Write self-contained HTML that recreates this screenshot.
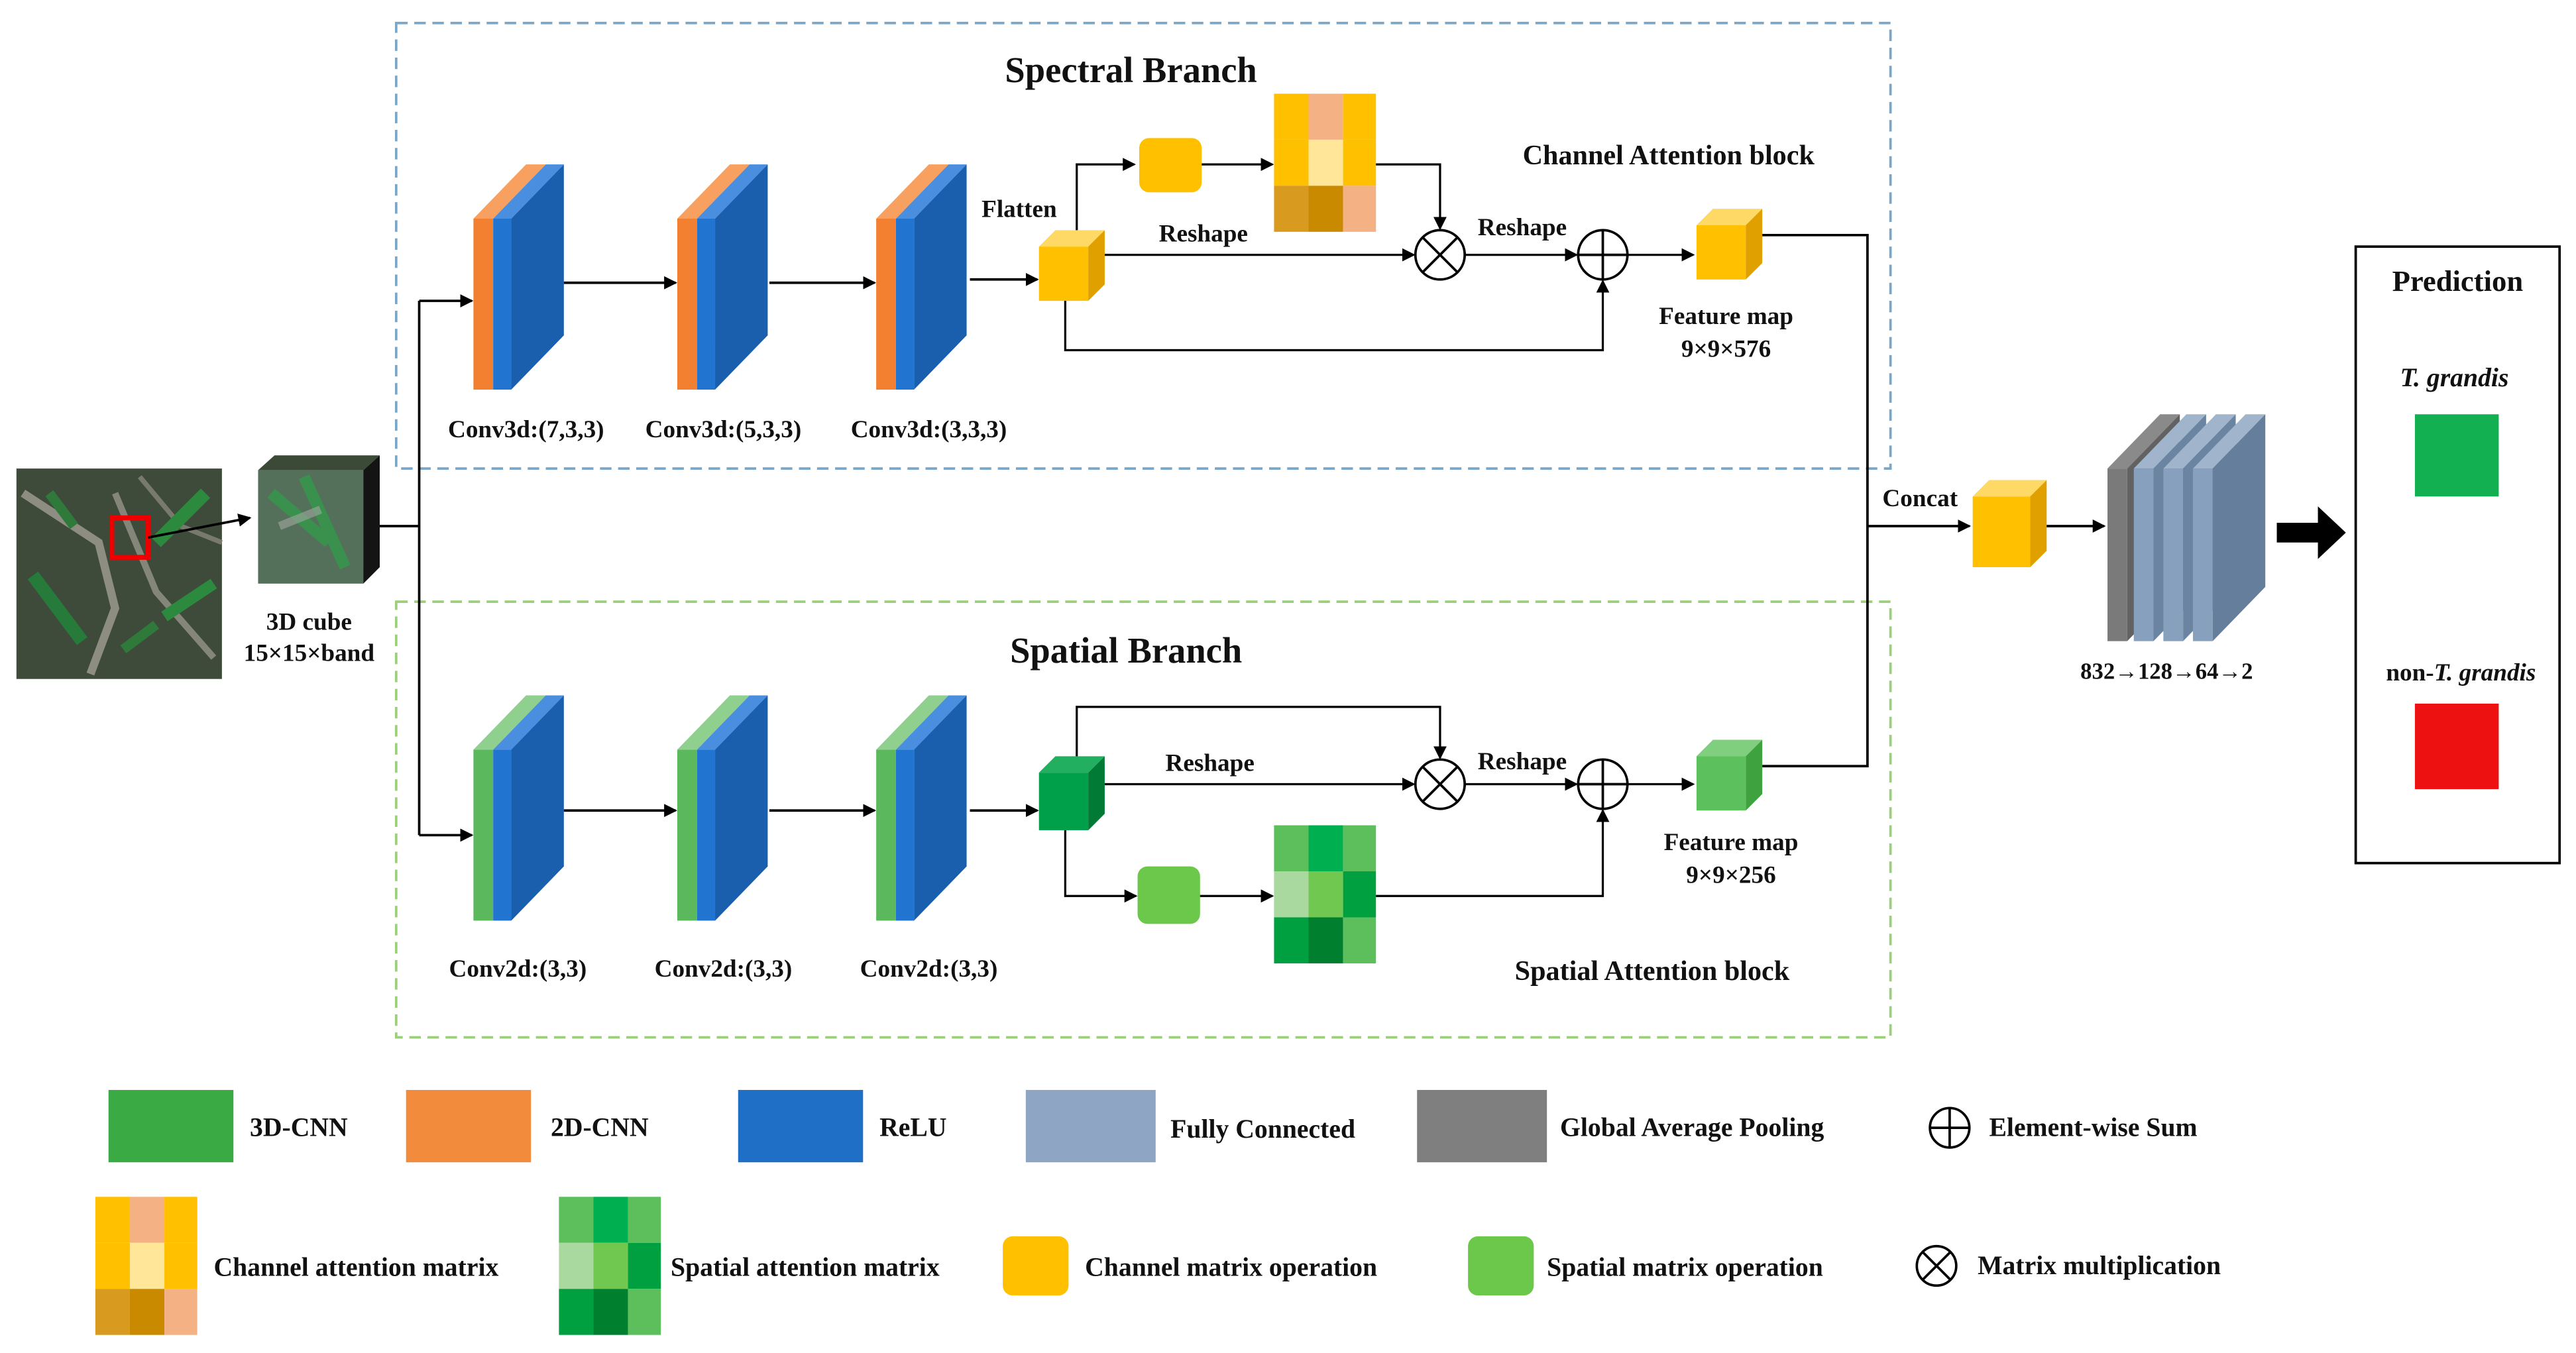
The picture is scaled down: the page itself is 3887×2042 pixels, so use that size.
<!DOCTYPE html>
<html><head><meta charset="utf-8"><style>
html,body{margin:0;padding:0;background:#fff;}
svg{display:block;}
text{font-family:"Liberation Serif",serif;font-weight:bold;fill:#111;}
</style></head><body>
<svg width="3887" height="2042" viewBox="0 0 1567 823" preserveAspectRatio="none" xmlns="http://www.w3.org/2000/svg">
<defs>
<marker id="ar" markerWidth="8" markerHeight="8" refX="7" refY="4" orient="auto" markerUnits="userSpaceOnUse">
<path d="M0,0 L8,4 L0,8 z" fill="#000"/></marker>
<g id="blkO">
<polygon points="0,33 32,0 44,0 12,33" fill="#f7a060"/>
<polygon points="12,33 44,0 55,0 23,33" fill="#4a8ee0"/>
<rect x="0" y="33" width="12" height="104" fill="#f28030"/>
<rect x="12" y="33" width="11" height="104" fill="#2174d0"/>
<polygon points="23,33 55,0 55,104 23,137" fill="#1a5eae"/>
</g>
<g id="blkG">
<polygon points="0,33 32,0 44,0 12,33" fill="#8fd08f"/>
<polygon points="12,33 44,0 55,0 23,33" fill="#4a8ee0"/>
<rect x="0" y="33" width="12" height="104" fill="#5cb85c"/>
<rect x="12" y="33" width="11" height="104" fill="#2174d0"/>
<polygon points="23,33 55,0 55,104 23,137" fill="#1a5eae"/>
</g>
<g id="cubeO">
<polygon points="0,10 10,0 40,0 30,10" fill="#ffd966"/>
<rect x="0" y="10" width="30" height="33" fill="#ffc000"/>
<polygon points="30,10 40,0 40,33 30,43" fill="#e0a000"/>
</g>
<g id="cubeG">
<polygon points="0,10 10,0 40,0 30,10" fill="#7fcf7f"/>
<rect x="0" y="10" width="30" height="33" fill="#5cc05c"/>
<polygon points="30,10 40,0 40,33 30,43" fill="#3ea33e"/>
</g>
<g id="cubeD">
<polygon points="0,10 10,0 40,0 30,10" fill="#22b060"/>
<rect x="0" y="10" width="30" height="35" fill="#00a04a"/>
<polygon points="30,10 40,0 40,35 30,45" fill="#007a35"/>
</g>
<g id="matC">
<rect x="0" y="0" width="21" height="28" fill="#ffc000"/><rect x="21" y="0" width="21" height="28" fill="#f4b183"/><rect x="42" y="0" width="20" height="28" fill="#ffc000"/>
<rect x="0" y="28" width="21" height="28" fill="#ffc000"/><rect x="21" y="28" width="21" height="28" fill="#ffe699"/><rect x="42" y="28" width="20" height="28" fill="#ffc000"/>
<rect x="0" y="56" width="21" height="28" fill="#d99b1f"/><rect x="21" y="56" width="21" height="28" fill="#c98a00"/><rect x="42" y="56" width="20" height="28" fill="#f4b183"/>
</g>
<g id="matS">
<rect x="0" y="0" width="21" height="28" fill="#5cbf5c"/><rect x="21" y="0" width="21" height="28" fill="#00b050"/><rect x="42" y="0" width="20" height="28" fill="#5cbf5c"/>
<rect x="0" y="28" width="21" height="28" fill="#a9d99e"/><rect x="21" y="28" width="21" height="28" fill="#70c850"/><rect x="42" y="28" width="20" height="28" fill="#00a040"/>
<rect x="0" y="56" width="21" height="28" fill="#00a040"/><rect x="21" y="56" width="21" height="28" fill="#00802f"/><rect x="42" y="56" width="20" height="28" fill="#5cbf5c"/>
</g>
</defs>

<rect x="241" y="14" width="909" height="271" fill="none" stroke="#7aa6c8" stroke-width="1.5" stroke-dasharray="7,4"/>
<rect x="241" y="366" width="909" height="265" fill="none" stroke="#9ccf7a" stroke-width="1.5" stroke-dasharray="7,4"/>
<text x="688" y="50" font-size="22" text-anchor="middle">Spectral Branch</text>
<text x="685" y="403" font-size="22" text-anchor="middle">Spatial Branch</text>
<text x="1015" y="100" font-size="17" text-anchor="middle">Channel Attention block</text>
<text x="1005" y="596" font-size="17" text-anchor="middle">Spatial Attention block</text>

<rect x="10" y="285" width="125" height="128" fill="#3e4a3a"/>
<g opacity="0.75">
<path d="M14,300 L60,330 L70,370 L55,410" stroke="#a9a49a" stroke-width="5" fill="none"/>
<path d="M70,300 L95,360 L130,400" stroke="#9c9a90" stroke-width="4" fill="none"/>
<path d="M85,290 L110,320 L135,330" stroke="#8c8a80" stroke-width="3" fill="none"/>
<path d="M20,350 L50,390" stroke="#1f8a3a" stroke-width="8" fill="none"/>
<path d="M95,330 L125,300" stroke="#27a040" stroke-width="8" fill="none"/>
<path d="M100,375 L130,355" stroke="#27a040" stroke-width="7" fill="none"/>
<path d="M30,300 L45,320" stroke="#2a8a3a" stroke-width="6" fill="none"/>
<path d="M75,395 L95,380" stroke="#2a8a3a" stroke-width="6" fill="none"/>
</g>
<rect x="68" y="315" width="22" height="24" fill="none" stroke="#e00" stroke-width="3"/>
<polygon points="157,286 167,277 231,277 221,286" fill="#3b4a36"/>
<rect x="157" y="286" width="64" height="69" fill="#55705a"/>
<path d="M165,300 L200,330 M185,290 L210,345" stroke="#2fa04a" stroke-width="7" opacity="0.7"/>
<path d="M170,320 L195,310" stroke="#a0a8a0" stroke-width="5" opacity="0.6"/>
<polygon points="221,286 231,277 231,345 221,355" fill="#141414"/>
<line x1="90" y1="327" x2="152" y2="315" stroke="#000" stroke-width="1.5" marker-end="url(#ar)"/>
<text x="188" y="383" font-size="15" text-anchor="middle">3D cube</text>
<text x="188" y="402" font-size="15" text-anchor="middle">15×15×band</text>
<polyline points="231,320 255,320" fill="none" stroke="#000" stroke-width="1.5"/>
<line x1="255" y1="183" x2="255" y2="508" stroke="#000" stroke-width="1.5"/>
<line x1="255" y1="183" x2="287" y2="183" stroke="#000" stroke-width="1.5" marker-end="url(#ar)"/>
<line x1="255" y1="508" x2="287" y2="508" stroke="#000" stroke-width="1.5" marker-end="url(#ar)"/>

<use href="#blkO" x="288" y="100"/><use href="#blkO" x="412" y="100"/><use href="#blkO" x="533" y="100"/>
<line x1="343" y1="172" x2="411" y2="172" stroke="#000" stroke-width="1.5" marker-end="url(#ar)"/>
<line x1="468" y1="172" x2="532" y2="172" stroke="#000" stroke-width="1.5" marker-end="url(#ar)"/>
<line x1="590" y1="170" x2="631" y2="170" stroke="#000" stroke-width="1.5" marker-end="url(#ar)"/>
<text x="320" y="266" font-size="15" text-anchor="middle">Conv3d:(7,3,3)</text>
<text x="440" y="266" font-size="15" text-anchor="middle">Conv3d:(5,3,3)</text>
<text x="565" y="266" font-size="15" text-anchor="middle">Conv3d:(3,3,3)</text>
<text x="620" y="132" font-size="15" text-anchor="middle" font-weight="normal">Flatten</text>
<use href="#cubeO" x="632" y="140"/>
<polyline points="655,140 655,100 690,100" fill="none" stroke="#000" stroke-width="1.3" marker-end="url(#ar)"/>
<rect x="693" y="84" width="38" height="33" rx="6" fill="#ffc000"/>
<line x1="731" y1="100" x2="774" y2="100" stroke="#000" stroke-width="1.3" marker-end="url(#ar)"/>
<use href="#matC" x="775" y="57"/>
<polyline points="837,100 876,100 876,139" fill="none" stroke="#000" stroke-width="1.3" marker-end="url(#ar)"/>
<line x1="672" y1="155" x2="860" y2="155" stroke="#000" stroke-width="1.3" marker-end="url(#ar)"/>
<text x="732" y="147" font-size="15" text-anchor="middle" font-weight="normal">Reshape</text>
<circle cx="876" cy="155" r="15" fill="#fff" stroke="#000" stroke-width="1.5"/>
<path d="M865.4,144.4 L886.6,165.6 M886.6,144.4 L865.4,165.6" stroke="#000" stroke-width="1.5"/>
<line x1="891" y1="155" x2="959" y2="155" stroke="#000" stroke-width="1.3" marker-end="url(#ar)"/>
<text x="926" y="143" font-size="15" text-anchor="middle" font-weight="normal">Reshape</text>
<circle cx="975" cy="155" r="15" fill="#fff" stroke="#000" stroke-width="1.5"/>
<path d="M960,155 L990,155 M975,140 L975,170" stroke="#000" stroke-width="1.5"/>
<polyline points="648,183 648,213 975,213 975,171" fill="none" stroke="#000" stroke-width="1.3" marker-end="url(#ar)"/>
<line x1="990" y1="155" x2="1030" y2="155" stroke="#000" stroke-width="1.3" marker-end="url(#ar)"/>
<use href="#cubeO" x="1032" y="127"/>
<text x="1050" y="197" font-size="15" text-anchor="middle">Feature map</text>
<text x="1050" y="217" font-size="15" text-anchor="middle">9×9×576</text>
<polyline points="1072,143 1136,143 1136,466 1072,466" fill="none" stroke="#000" stroke-width="1.5"/>

<use href="#blkG" x="288" y="423"/><use href="#blkG" x="412" y="423"/><use href="#blkG" x="533" y="423"/>
<line x1="343" y1="493" x2="411" y2="493" stroke="#000" stroke-width="1.5" marker-end="url(#ar)"/>
<line x1="468" y1="493" x2="532" y2="493" stroke="#000" stroke-width="1.5" marker-end="url(#ar)"/>
<line x1="590" y1="493" x2="631" y2="493" stroke="#000" stroke-width="1.5" marker-end="url(#ar)"/>
<text x="315" y="594" font-size="15" text-anchor="middle">Conv2d:(3,3)</text>
<text x="440" y="594" font-size="15" text-anchor="middle">Conv2d:(3,3)</text>
<text x="565" y="594" font-size="15" text-anchor="middle">Conv2d:(3,3)</text>
<use href="#cubeD" x="632" y="460"/>
<polyline points="655,460 655,430 876,430 876,461" fill="none" stroke="#000" stroke-width="1.3" marker-end="url(#ar)"/>
<line x1="672" y1="477" x2="860" y2="477" stroke="#000" stroke-width="1.3" marker-end="url(#ar)"/>
<text x="736" y="469" font-size="15" text-anchor="middle" font-weight="normal">Reshape</text>
<circle cx="876" cy="477" r="15" fill="#fff" stroke="#000" stroke-width="1.5"/>
<path d="M865.4,466.4 L886.6,487.6 M886.6,466.4 L865.4,487.6" stroke="#000" stroke-width="1.5"/>
<line x1="891" y1="477" x2="959" y2="477" stroke="#000" stroke-width="1.3" marker-end="url(#ar)"/>
<text x="926" y="468" font-size="15" text-anchor="middle" font-weight="normal">Reshape</text>
<circle cx="975" cy="477" r="15" fill="#fff" stroke="#000" stroke-width="1.5"/>
<path d="M960,477 L990,477 M975,462 L975,492" stroke="#000" stroke-width="1.5"/>
<polyline points="648,505 648,545 691,545" fill="none" stroke="#000" stroke-width="1.3" marker-end="url(#ar)"/>
<rect x="692" y="527" width="38" height="35" rx="6" fill="#6cc84a"/>
<line x1="730" y1="545" x2="774" y2="545" stroke="#000" stroke-width="1.3" marker-end="url(#ar)"/>
<use href="#matS" x="775" y="502"/>
<polyline points="837,545 975,545 975,493" fill="none" stroke="#000" stroke-width="1.3" marker-end="url(#ar)"/>
<line x1="990" y1="477" x2="1030" y2="477" stroke="#000" stroke-width="1.3" marker-end="url(#ar)"/>
<use href="#cubeG" x="1032" y="450"/>
<text x="1053" y="517" font-size="15" text-anchor="middle">Feature map</text>
<text x="1053" y="537" font-size="15" text-anchor="middle">9×9×256</text>

<text x="1168" y="308" font-size="15" text-anchor="middle">Concat</text>
<line x1="1136" y1="320" x2="1198" y2="320" stroke="#000" stroke-width="1.5" marker-end="url(#ar)"/>
<polygon points="1200,302 1210,292 1245,292 1235,302" fill="#ffd966"/>
<rect x="1200" y="302" width="35" height="43" fill="#ffc000"/>
<polygon points="1235,302 1245,292 1245,335 1235,345" fill="#e0a000"/>
<line x1="1245" y1="320" x2="1280" y2="320" stroke="#000" stroke-width="1.5" marker-end="url(#ar)"/>
<!-- FC stack (back = left, drawn first) -->
<g>
<polygon points="1282,285 1314,252 1326,252 1294,285" fill="#8a8a8a"/>
<rect x="1282" y="285" width="12" height="105" fill="#7a7a7a"/>
<polygon points="1294,285 1326,252 1326,357 1294,390" fill="#626262"/>
<polygon points="1298,285 1330,252 1342,252 1310,285" fill="#a0b4cc"/>
<rect x="1298" y="285" width="12" height="105" fill="#86a0be"/>
<polygon points="1310,285 1342,252 1342,357 1310,390" fill="#6a84a2"/>
<polygon points="1316,285 1348,252 1360,252 1328,285" fill="#a0b4cc"/>
<rect x="1316" y="285" width="12" height="105" fill="#86a0be"/>
<polygon points="1328,285 1360,252 1360,357 1328,390" fill="#6a84a2"/>
<polygon points="1334,285 1366,252 1378,252 1346,285" fill="#a0b4cc"/>
<rect x="1334" y="285" width="12" height="105" fill="#86a0be"/>
<polygon points="1346,285 1378,252 1378,357 1346,390" fill="#647e9c"/>
</g>
<text x="1318" y="413" font-size="14" text-anchor="middle">832→128→64→2</text>
<polygon points="1385,318 1410,318 1410,308 1427,324 1410,340 1410,330 1385,330" fill="#000"/>
<rect x="1433" y="150" width="124" height="375" fill="#fff" stroke="#000" stroke-width="1.5"/>
<text x="1495" y="177" font-size="18" text-anchor="middle">Prediction</text>
<text x="1493" y="235" font-size="16" text-anchor="middle" font-style="italic">T. grandis</text>
<rect x="1469" y="252" width="51" height="50" fill="#12b050"/>
<text x="1497" y="414" font-size="15" text-anchor="middle">non-<tspan font-style="italic">T. grandis</tspan></text>
<rect x="1469" y="428" width="51" height="52" fill="#ee1111"/>

<rect x="66" y="663" width="76" height="44" fill="#3aaa45"/><text x="152" y="691" font-size="16">3D-CNN</text>
<rect x="247" y="663" width="76" height="44" fill="#f28c3c"/><text x="335" y="691" font-size="16">2D-CNN</text>
<rect x="449" y="663" width="76" height="44" fill="#1f6fc6"/><text x="535" y="691" font-size="16">ReLU</text>
<rect x="624" y="663" width="79" height="44" fill="#8ea6c4"/><text x="712" y="692" font-size="16">Fully Connected</text>
<rect x="862" y="663" width="79" height="44" fill="#7f7f7f"/><text x="949" y="691" font-size="16">Global Average Pooling</text>
<circle cx="1186" cy="686" r="12" fill="#fff" stroke="#000" stroke-width="1.5"/><path d="M1174,686 L1198,686 M1186,674 L1186,698" stroke="#000" stroke-width="1.5"/>
<text x="1210" y="691" font-size="16">Element-wise Sum</text>
<use href="#matC" x="58" y="728"/><text x="130" y="776" font-size="16">Channel attention matrix</text>
<use href="#matS" x="340" y="728"/><text x="408" y="776" font-size="16">Spatial attention matrix</text>
<rect x="610" y="752" width="40" height="36" rx="6" fill="#ffc000"/><text x="660" y="776" font-size="16">Channel matrix operation</text>
<rect x="893" y="752" width="40" height="36" rx="6" fill="#6cc84a"/><text x="941" y="776" font-size="16">Spatial matrix operation</text>
<circle cx="1178" cy="770" r="12" fill="#fff" stroke="#000" stroke-width="1.5"/><path d="M1169.5,761.5 L1186.5,778.5 M1186.5,761.5 L1169.5,778.5" stroke="#000" stroke-width="1.5"/>
<text x="1203" y="775" font-size="16">Matrix multiplication</text>
</svg>
</body></html>
